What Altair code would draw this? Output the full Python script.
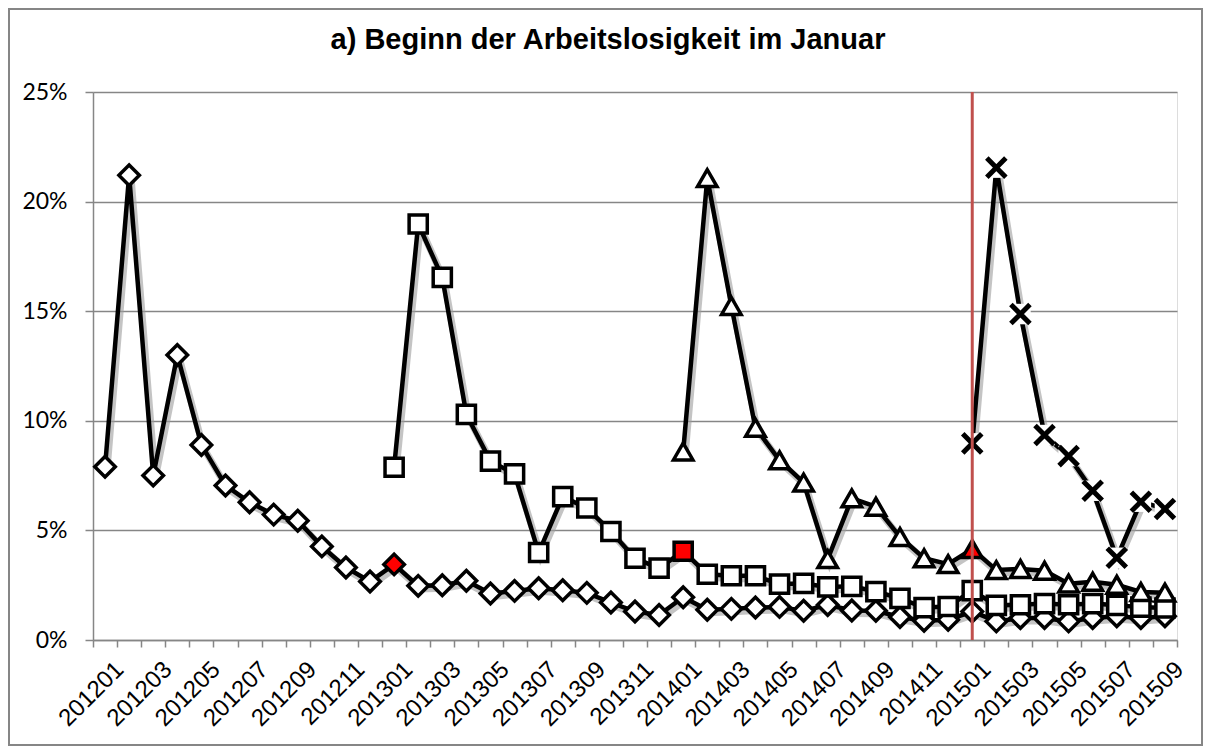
import altair as alt
import pandas as pd

# Categories (months)
months = [
    "201201", "201202", "201203", "201204", "201205", "201206", "201207", "201208", "201209", "201210", "201211", "201212",
    "201301", "201302", "201303", "201304", "201305", "201306", "201307", "201308", "201309", "201310", "201311", "201312",
    "201401", "201402", "201403", "201404", "201405", "201406", "201407", "201408", "201409", "201410", "201411", "201412",
    "201501", "201502", "201503", "201504", "201505", "201506", "201507", "201508", "201509",
]

# Series values in percent
diamond_vals = [7.9, 21.2, 7.5, 13.0, 8.9, 7.05, 6.28, 5.72, 5.44, 4.27, 3.31, 2.67,
                3.45, 2.47, 2.5, 2.7, 2.12, 2.24, 2.36, 2.27, 2.15, 1.71, 1.3, 1.14,
                1.95, 1.38, 1.42, 1.48, 1.51, 1.33, 1.6, 1.35, 1.33, 1.05, 0.88, 0.92,
                1.3, 0.85, 1.0, 1.0, 0.85, 1.0, 1.08, 1.0, 1.08]
square_vals = [7.88, 18.98, 16.54, 10.29, 8.16, 7.58, 3.99, 6.54, 6.02, 4.95, 3.73, 3.28,
               4.05, 3.0, 2.93, 2.93, 2.55, 2.58, 2.42, 2.45, 2.21, 1.9, 1.48, 1.53,
               2.25, 1.58, 1.61, 1.66, 1.61, 1.66, 1.58, 1.5, 1.46]
triangle_vals = [8.6, 21.07, 15.24, 9.68, 8.2, 7.18, 3.69, 6.46, 6.08, 4.7, 3.73, 3.46,
                 4.15, 3.19, 3.24, 3.16, 2.57, 2.66, 2.52, 2.19, 2.16]
cross_vals = [8.97, 21.55, 14.87, 9.35, 8.39, 6.81, 3.75, 6.31, 5.98]

series_names = ["diamond", "square", "triangle", "cross"]
series_start = ["201201", "201301", "201401", "201501"]
series_values = [diamond_vals, square_vals, triangle_vals, cross_vals]
highlight_month = ["201301", "201401", "201501", ""]
marker_month = ["201501"]

rows = []
for name, start, vals, hl in zip(series_names, series_start, series_values, highlight_month):
    s = months.index(start)
    for i, v in enumerate(vals):
        m = months[s + i]
        rows.append({"month": m, "value": v, "series": name, "red": m == hl})
df = pd.DataFrame(rows)

GRID = "#868686"
W, H = 1084, 548
PL, PT, PR, PB = 85, 84, 26, 106

x_enc = alt.X(
    "month:O",
    sort=months,
    scale=alt.Scale(type="band", domain=months, paddingInner=0, paddingOuter=0),
    axis=alt.Axis(
        title=None,
        tickBand="extent",
        ticks=True,
        tickSize=7,
        tickColor=GRID,
        tickWidth=1.5,
        domainColor=GRID,
        domainWidth=1.5,
        grid=False,
        labelAngle=-45,
        labelAlign="right",
        labelBaseline="top",
        labelPadding=10,
        labelOffset=6,
        labelFont="Liberation Sans",
        labelFontSize=24,
        labelColor="black",
        labelOverlap=False,
        labelExpr="(toNumber(datum.value) % 2 == 1) ? datum.value : ''",
    ),
)
y_enc = alt.Y(
    "value:Q",
    scale=alt.Scale(domain=[0, 25], nice=False),
    axis=alt.Axis(
        title=None,
        values=[0, 5, 10, 15, 20, 25],
        labelExpr="datum.value + '%'",
        tickSize=8,
        tickColor=GRID,
        tickWidth=1.5,
        domainColor=GRID,
        domainWidth=1.5,
        gridColor=GRID,
        gridWidth=1.5,
        labelPadding=18,
        labelFont="Lato",
        labelFontSize=23,
        labelColor="black",
    ),
)

# decorative outer frame (chart area border)
frame = alt.Chart(pd.DataFrame({"k": [0]})).mark_rect(
    fill=None, stroke=GRID, strokeWidth=2
).encode(
    x=alt.value(-PL + 1), x2=alt.value(W + PR - 1),
    y=alt.value(-PT + 1), y2=alt.value(H + PB - 1),
)

base = alt.Chart(df)

shadow = base.mark_line(
    color="#9c9c9c", strokeWidth=7, opacity=0.6, xOffset=2, yOffset=3
).encode(x=x_enc, y=y_enc, detail="series:N")

shapes = {
    "diamond": "diamond",
    "square": "square",
    "triangle": "triangle-up",
    "cross": "M-0.7,-0.7L0.7,0.7M-0.7,0.7L0.7,-0.7",
}
sizes = {"diamond": 420, "square": 330, "triangle": 380, "cross": 740}

layers = [frame, shadow]
for name in series_names:
    sub = base.transform_filter(alt.datum.series == name)
    line = sub.mark_line(color="black", strokeWidth=4.5).encode(x=x_enc, y=y_enc)
    layers.append(line)
for name in series_names:
    sub = base.transform_filter(alt.datum.series == name)
    if name == "cross":
        halo = sub.mark_point(
            shape="square", size=420, filled=True, fill="white", strokeWidth=0, opacity=1
        ).encode(x=x_enc, y=y_enc)
        layers.append(halo)
        pts = sub.mark_point(
            shape=shapes[name], size=sizes[name], filled=False,
            stroke="black", strokeWidth=5, opacity=1
        ).encode(x=x_enc, y=y_enc)
    else:
        pts = sub.mark_point(
            shape=shapes[name], size=sizes[name], filled=True,
            stroke="black", strokeWidth=3.5, opacity=1
        ).encode(
            x=x_enc, y=y_enc,
            fill=alt.condition(alt.datum.red, alt.value("#ff0000"), alt.value("white")),
        )
    layers.append(pts)

rule = alt.Chart(pd.DataFrame({"month": marker_month})).mark_rule(
    color="#C0504D", strokeWidth=3
).encode(x=x_enc)
layers.append(rule)

chart = alt.layer(*layers).properties(
    width=W,
    height=H,
    padding={"left": PL, "top": PT, "right": PR, "bottom": PB},
    autosize=alt.AutoSizeParams(type="none"),
    title=alt.TitleParams(
        "a) Beginn der Arbeitslosigkeit im Januar",
        font="Liberation Sans",
        fontSize=29,
        fontWeight="bold",
        color="black",
        anchor="middle",
        baseline="alphabetic",
        offset=-70,
        dx=-27,
    ),
).configure_view(stroke=None).configure(background="white")

chart.save("out.html", embed_options={"renderer": "svg", "actions": False})
